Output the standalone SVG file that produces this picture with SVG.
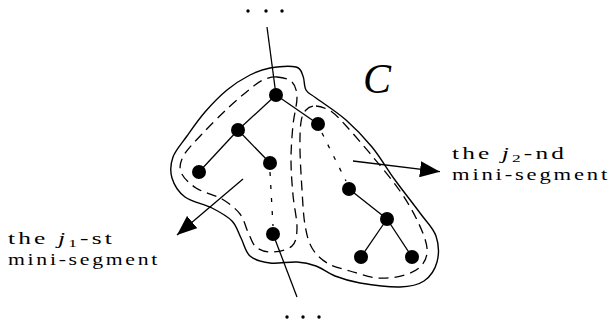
<svg xmlns="http://www.w3.org/2000/svg" width="612" height="324" viewBox="0 0 612 324">
  <style>
    .edge { stroke: #000; stroke-width: 1.3; fill: none; }
    .dotted { stroke: #000; stroke-width: 1.3; fill: none; stroke-dasharray: 4 9; }
    .outline { stroke: #000; stroke-width: 1.4; fill: none; }
    .segment { stroke: #000; stroke-width: 1.3; fill: none; stroke-dasharray: 10 6; }
    .node { fill: #000; }
    .dot { fill: #000; }
    .label { font-family: "Liberation Serif", "DejaVu Serif", serif; font-size: 16px; letter-spacing: 2px; fill: #000; }
    .it { font-style: italic; }
    .sub { font-size: 11px; }
  </style>
  <defs>
    <marker id="arrow" viewBox="0 0 20 16" refX="20" refY="8" markerWidth="20" markerHeight="16" markerUnits="userSpaceOnUse" orient="auto">
      <path d="M0,0 L20,8 L0,16 Z" fill="#000"/>
    </marker>
  </defs>
  <rect width="612" height="324" fill="#fff"/>

  <!-- region C -->
  <g id="region-C">
    <path class="outline" d="M270,68 C277.7,66.7 290.5,65.7 296,67 S301.3,72.2 303,76 S303.8,86.3 306,90 S309.3,93 316,98 S336.7,111.8 346,120 S363.8,137 372,147 S387,169 395,180 S413.2,203.7 420,213 S433.2,227.8 436,236 S439,254.5 437,262 S430.2,276.8 424,281 S410.7,286.7 400,287 S370.8,284.8 360,283 S342.3,278.8 335,276 S322.3,268.3 316,266 S304.7,262.5 297,262 S277.8,264 270,263 S254.8,260.2 250,256 S244,243.8 241,238 S236.8,226 232,221 S219.8,212 212,208 S191.7,202 185,197 S174,184.7 172,178 S170.5,164 173,157 S181.7,143.5 187,136 S198.3,119.7 205,112 S219.5,96.2 227,90 S242.8,78.7 250,75 S262.3,69.3 270,68 Z"/>
    <text x="363" y="93" style="font-family:'Liberation Serif','DejaVu Serif',serif;font-style:italic;font-size:42px">C</text>
  </g>

  <!-- mini-segment outlines -->
  <g id="segment-j1">
    <path class="segment" d="M277,77 C281.8,77.3 288.7,78.7 292,82 S296.8,89.8 297,97 S294,114.5 293,125 S291,148.3 291,160 S292,183.7 293,195 S297.2,219.5 297,228 S296.2,242 292,246 S278,251.8 272,252 S260,250.3 256,247 S250.7,237.5 248,232 S244.3,219.5 240,214 S229.3,203.3 222,199 S202.8,192.5 196,188 S183,177.5 181,172 S180.3,161.5 184,155 S195.7,140.8 203,133 S220.2,115.3 228,108 S244.2,93.7 250,89 S258.5,82 263,80 S272.2,76.7 277,77 Z"/>
  </g>
  <g id="segment-j2">
    <path class="segment" d="M316,106 C320.3,106.3 326.7,108.3 332,112 S341.2,120.5 348,128 S364.3,146.5 373,157 S392.5,180.2 400,191 S413.5,212.5 418,222 S426.3,240.8 427,248 S425.7,260.5 422,265 S412.3,272.8 405,275 S387.2,278.7 378,278 S358.5,273.5 350,271 S333.3,266.8 327,263 S315.7,254.3 312,248 S306.7,234.7 305,225 S302.8,202.5 302,190 S300.2,161.3 300,150 S300,128.7 301,122 S303.5,112.7 306,110 S311.7,105.7 316,106 Z"/>
  </g>

  <!-- tree edges -->
  <g id="connectors">
    <line class="edge" x1="267" y1="27" x2="276" y2="95"/>
    <line class="edge" x1="273" y1="234" x2="297" y2="297"/>
    <line class="edge" x1="276" y1="95" x2="238" y2="130"/>
    <line class="edge" x1="276" y1="95" x2="318" y2="124"/>
    <line class="edge" x1="238" y1="130" x2="199" y2="172"/>
    <line class="edge" x1="238" y1="130" x2="270" y2="163"/>
    <line class="edge" x1="349" y1="189" x2="387" y2="219"/>
    <line class="edge" x1="387" y1="219" x2="361" y2="257"/>
    <line class="edge" x1="387" y1="219" x2="412" y2="257"/>
    <line class="dotted" x1="270" y1="172" x2="273" y2="226"/>
    <line class="dotted" x1="322" y1="133" x2="346" y2="181"/>
    <line class="edge" x1="353" y1="161" x2="440" y2="171.7" marker-end="url(#arrow)"/>
    <line class="edge" x1="243" y1="179" x2="177" y2="235" marker-end="url(#arrow)"/>
  </g>

  <!-- vertices -->
  <g id="nodes">
    <circle id="v-root" class="node" cx="276" cy="95" r="7"/>
    <circle id="v-a" class="node" cx="238" cy="130" r="7"/>
    <circle id="v-b" class="node" cx="199" cy="172" r="7"/>
    <circle id="v-c" class="node" cx="270" cy="163" r="7"/>
    <circle id="v-d" class="node" cx="273" cy="234" r="7"/>
    <circle id="v-e" class="node" cx="318" cy="124" r="7"/>
    <circle id="v-f" class="node" cx="349" cy="189" r="7"/>
    <circle id="v-g" class="node" cx="387" cy="219" r="7"/>
    <circle id="v-h" class="node" cx="361" cy="257" r="7"/>
    <circle id="v-i" class="node" cx="412" cy="257" r="7"/>
  </g>

  <!-- continuation dots -->
  <g id="ellipsis-top">
    <circle class="dot" cx="248" cy="11" r="1.7"/>
    <circle class="dot" cx="266" cy="11" r="1.7"/>
    <circle class="dot" cx="282" cy="11" r="1.7"/>
  </g>
  <g id="ellipsis-bottom">
    <circle class="dot" cx="287" cy="317" r="1.7"/>
    <circle class="dot" cx="303" cy="317" r="1.7"/>
    <circle class="dot" cx="319" cy="317" r="1.7"/>
  </g>

  <!-- labels -->
  <g id="label-j2">
    <text class="label" x="452" y="159" textLength="115" lengthAdjust="spacingAndGlyphs">the <tspan class="it">j</tspan><tspan class="sub" dy="3">2</tspan><tspan dy="-3">-nd</tspan></text>
    <text class="label" x="452" y="180" textLength="158" lengthAdjust="spacingAndGlyphs">mini-segment</text>
  </g>
  <g id="label-j1">
    <text class="label" x="8" y="244" textLength="107" lengthAdjust="spacingAndGlyphs">the <tspan class="it">j</tspan><tspan class="sub" dy="3">1</tspan><tspan dy="-3">-st</tspan></text>
    <text class="label" x="8" y="265" textLength="152" lengthAdjust="spacingAndGlyphs">mini-segment</text>
  </g>
</svg>
